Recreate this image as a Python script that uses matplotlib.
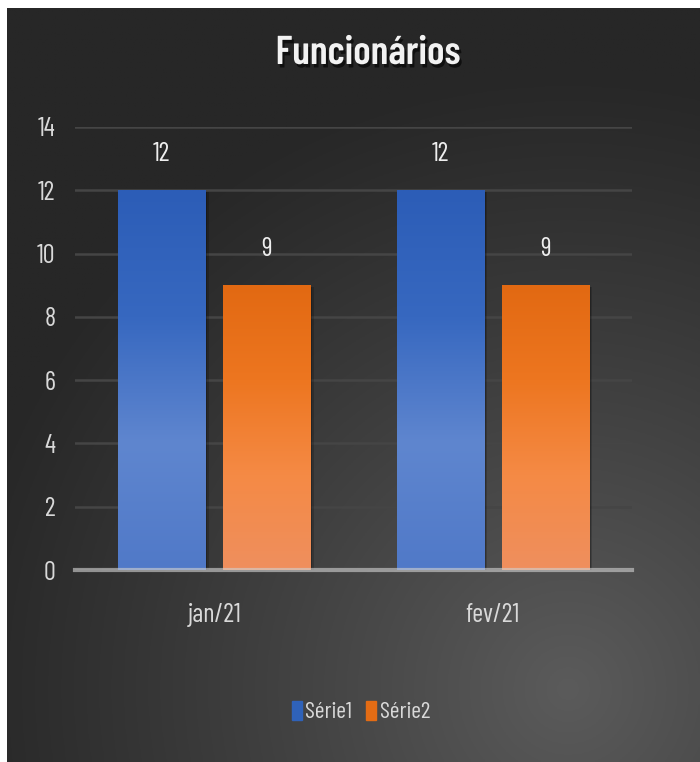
import numpy as np
import matplotlib
matplotlib.use("Agg")
import matplotlib.pyplot as plt
from matplotlib.patches import Rectangle
import matplotlib.patheffects as pe
from matplotlib.colors import LinearSegmentedColormap

# ---- data ----
categories = ["jan/21", "fev/21"]
series_names = ["Série1", "Série2"]
serie1 = [12, 12]
serie2 = [9, 9]
yticks = [0, 2, 4, 6, 8, 10, 12, 14]
title = "Funcionários"

FONT = ["Barlow Condensed", "DejaVu Sans"]
plt.rcParams["font.family"] = FONT

W, H = 700, 762
fig = plt.figure(figsize=(W / 100, H / 100), dpi=100, facecolor="white")

# ---- background panel with radial gradient ----
bg = fig.add_axes([7 / W, 0, 1 - 7 / W, 1 - 8 / H])
bg.set_axis_off()
ny, nx = 300, 300
yy, xx = np.mgrid[0:ny, 0:nx]
px = xx / nx * 693
py = yy / ny * 754
d = np.hypot(px - 560, py - 680)
t = np.clip(1 - d / 620, 0, 1) ** 1.1
g = (0x27 + (0x5b - 0x27) * t) / 255
img = np.dstack([g, g, g])
bg.imshow(img, extent=[0, 1, 0, 1], origin="upper", aspect="auto")
bg.set_xlim(0, 1)
bg.set_ylim(0, 1)

# ---- main axes ----
ax = fig.add_axes([75 / W, 1 - 570 / H, (632 - 75) / W, (570 - 127) / H])
ax.patch.set_alpha(0)
for s in ax.spines.values():
    s.set_visible(False)

x = np.arange(len(categories))
bw = 0.3125
off = (bw + 0.065) / 2

b1 = ax.bar(x - off, serie1, bw, color="#2f62b9", zorder=3, label=series_names[0])
b2 = ax.bar(x + off, serie2, bw, color="#e46c14", zorder=3, label=series_names[1])

# gradient colours from top to bottom of a bar
cmap1 = LinearSegmentedColormap.from_list("s1", ["#2c5db7", "#3768c0", "#5f86cf", "#5079c8"])
cmap2 = LinearSegmentedColormap.from_list("s2", ["#e26912", "#ed7620", "#f58a45", "#ef8f5e"])
grad = np.linspace(0, 1, 256).reshape(-1, 1)

for bars, cm in ((b1, cmap1), (b2, cmap2)):
    for p in bars:
        x0, w, h = p.get_x(), p.get_width(), p.get_height()
        for k, a in ((0.03, 0.18), (0.018, 0.22)):
            sh = Rectangle((x0 + k * 0.4, -0.08), w, h + 0.02, color="black",
                           alpha=a, zorder=2, lw=0)
            ax.add_patch(sh)
        im = ax.imshow(grad, extent=[x0, x0 + w, 0, h], cmap=cm, aspect="auto",
                       zorder=4, origin="upper")
        im.set_clip_path(p)

ax.set_xlim(-0.5, len(categories) - 0.5)
ax.set_ylim(0, 14)
ax.set_yticks(yticks)
ax.set_yticklabels([str(v) for v in yticks])
ax.set_xticks(x)
ax.set_xticklabels(categories)
ax.tick_params(axis="both", length=0, colors="#d9d9d9", labelsize=19)
ax.tick_params(axis="y", pad=14)
ax.tick_params(axis="x", pad=24)
ax.yaxis.grid(True, color="#454545", lw=1.8, zorder=1)
ax.set_axisbelow(True)
ax.axhline(0, color="#d0d0d0", alpha=0.62, lw=3, zorder=5, clip_on=False)

# data labels
for bars, vals in ((b1, serie1), (b2, serie2)):
    for p, v in zip(bars, vals):
        ax.annotate(str(v), (p.get_x() + p.get_width() / 2, v),
                    xytext=(0, 26), textcoords="offset points",
                    ha="center", va="center", fontsize=19, color="#eeeeee",
                    zorder=6)

# title
fig.text(368 / W, 1 - 64 / H, title, ha="center", va="baseline", fontsize=29,
         fontweight=600, color="#f2f2f2",
         path_effects=[pe.withSimplePatchShadow(offset=(1.5, -2.5), shadow_rgbFace="black", alpha=0.6)])

# legend
handles = [Rectangle((0, 0), 1, 1, color="#2f62b9"), Rectangle((0, 0), 1, 1, color="#e46c14")]
leg = fig.legend(handles, series_names, loc="center", bbox_to_anchor=(361 / W, 1 - 712 / H),
                 ncol=2, frameon=False, fontsize=17, handlelength=0.42, handleheight=0.85,
                 handletextpad=0.15, columnspacing=0.6, labelcolor="#d9d9d9")

fig.savefig("out.png", dpi=100, facecolor="white")
